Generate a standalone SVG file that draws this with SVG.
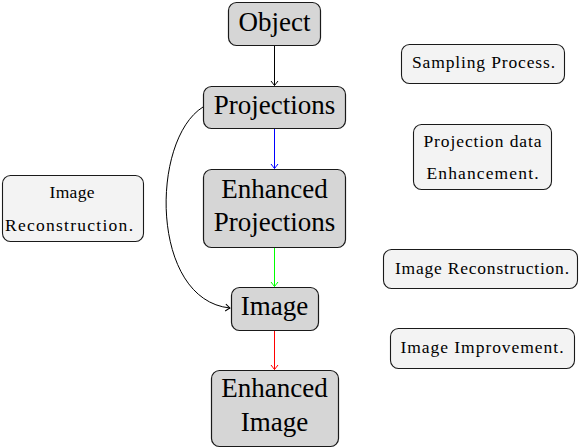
<svg xmlns="http://www.w3.org/2000/svg" width="582" height="448" viewBox="0 0 582 448">
<style>
.main rect{fill:#d6d6d6;stroke:#1a1a1a;stroke-width:1.2}
.side rect{fill:#f3f3f3;stroke:#1a1a1a;stroke-width:1.1}
.big{font-family:"Liberation Serif","Times New Roman",serif;font-size:27px;fill:#000;text-anchor:middle}
.small{font-family:"Liberation Serif","Times New Roman",serif;font-size:17.5px;fill:#000;text-anchor:middle}
.conn path{fill:none;stroke-width:1}
</style>
<defs>
<marker id="ak" viewBox="-6 -5 8 10" markerWidth="8" markerHeight="10" refX="0" refY="0" orient="auto" markerUnits="userSpaceOnUse"><path d="M-4.5,-3.5 Q-1,-0.8 0,0 Q-1,0.8 -4.5,3.5" fill="none" stroke="#000" stroke-width="1"/></marker>
<marker id="ab" viewBox="-6 -5 8 10" markerWidth="8" markerHeight="10" refX="0" refY="0" orient="auto" markerUnits="userSpaceOnUse"><path d="M-4.5,-3.5 Q-1,-0.8 0,0 Q-1,0.8 -4.5,3.5" fill="none" stroke="#0000ff" stroke-width="1"/></marker>
<marker id="ag" viewBox="-6 -5 8 10" markerWidth="8" markerHeight="10" refX="0" refY="0" orient="auto" markerUnits="userSpaceOnUse"><path d="M-4.5,-3.5 Q-1,-0.8 0,0 Q-1,0.8 -4.5,3.5" fill="none" stroke="#00ff00" stroke-width="1"/></marker>
<marker id="ar" viewBox="-6 -5 8 10" markerWidth="8" markerHeight="10" refX="0" refY="0" orient="auto" markerUnits="userSpaceOnUse"><path d="M-4.5,-3.5 Q-1,-0.8 0,0 Q-1,0.8 -4.5,3.5" fill="none" stroke="#ff0000" stroke-width="1"/></marker>
</defs>
<g id="connectors" class="conn">
<path d="M274.5,45.5 V85.5" stroke="#000" marker-end="url(#ak)"/>
<path d="M274.5,128.5 V168.5" stroke="#0000ff" marker-end="url(#ab)"/>
<path d="M274.5,247.5 V286.5" stroke="#00ff00" marker-end="url(#ag)"/>
<path d="M274.5,330.5 V369.5" stroke="#ff0000" marker-end="url(#ar)"/>
<path d="M203,107 C150,140 150,300 230,308" stroke="#000" marker-end="url(#ak)"/>
</g>
<g id="object" class="main"><rect x="228.5" y="2.5" width="92" height="43" rx="8"/><text class="big" x="274.5" y="30.5">Object</text></g>
<g id="projections" class="main"><rect x="203.5" y="86.5" width="142" height="42" rx="8"/><text class="big" x="274.5" y="113.5">Projections</text></g>
<g id="enhanced-projections" class="main"><rect x="203.5" y="169.5" width="142" height="78" rx="8"/><text class="big" x="274.5" y="197.5">Enhanced</text><text class="big" x="274.5" y="230.5">Projections</text></g>
<g id="image" class="main"><rect x="231.5" y="287.5" width="87" height="43" rx="8"/><text class="big" x="274.5" y="314.5">Image</text></g>
<g id="enhanced-image" class="main"><rect x="211.5" y="370.5" width="127" height="76" rx="8"/><text class="big" x="274.5" y="397">Enhanced</text><text class="big" x="274.5" y="430.5">Image</text></g>
<g id="sampling" class="side"><rect x="401.5" y="44.5" width="163" height="39" rx="8"/><text class="small" x="483.5" y="68" textLength="143" lengthAdjust="spacing">Sampling Process.</text></g>
<g id="projection-enhancement" class="side"><rect x="413.5" y="124.5" width="138" height="65" rx="8"/><text class="small" x="482.5" y="147" textLength="118" lengthAdjust="spacing">Projection data</text><text class="small" x="482.5" y="179" textLength="112" lengthAdjust="spacing">Enhancement.</text></g>
<g id="reconstruction-right" class="side"><rect x="383.5" y="249.5" width="194" height="39" rx="8"/><text class="small" x="482" y="273.5" textLength="174" lengthAdjust="spacing">Image Reconstruction.</text></g>
<g id="improvement" class="side"><rect x="390.5" y="328.5" width="184" height="40" rx="8"/><text class="small" x="482" y="353" textLength="163" lengthAdjust="spacing">Image Improvement.</text></g>
<g id="reconstruction-left" class="side"><rect x="2.5" y="175.5" width="141" height="66" rx="8"/><text class="small" x="72" y="197.5" textLength="45" lengthAdjust="spacing">Image</text><text class="small" x="69" y="231" textLength="128" lengthAdjust="spacing">Reconstruction.</text></g>
</svg>
